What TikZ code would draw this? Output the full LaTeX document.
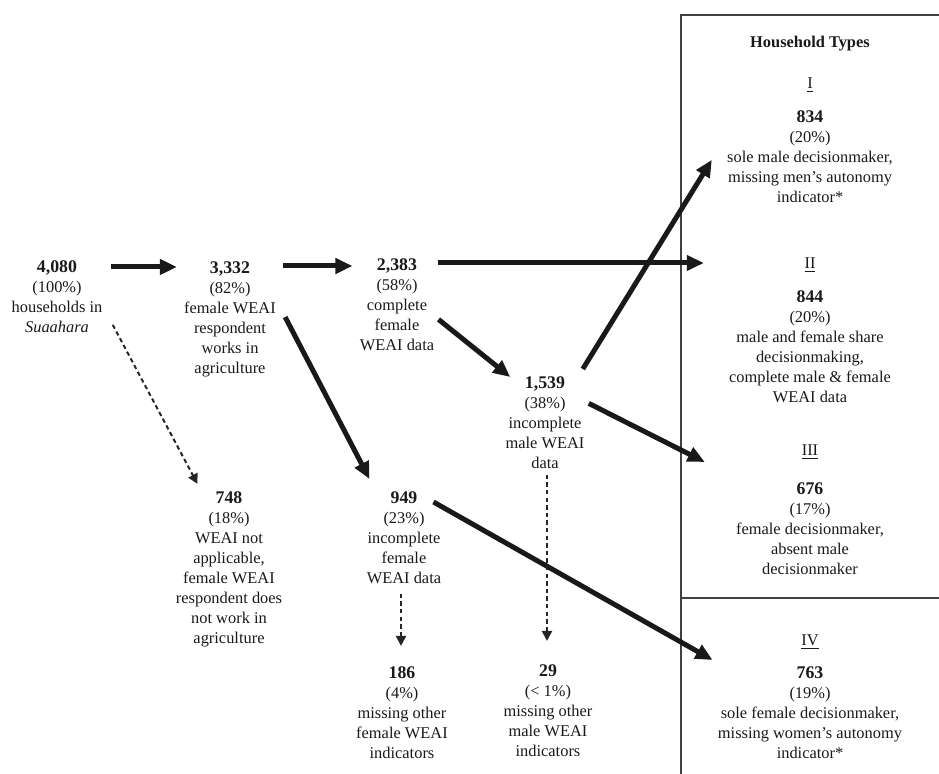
\documentclass[tikz,border=0pt]{standalone}
\usepackage{fontspec}
\setmainfont{Liberation Serif}
\usetikzlibrary{arrows.meta}

\newcommand{\cnum}[1]{{\fontsize{8.9}{10}\selectfont\textbf{#1}}}

\begin{document}
\begin{tikzpicture}[
  x=0.5pt, y=-0.5pt,
  every node/.style={font=\fontsize{8.2}{10}\selectfont, text=black!90},
  cnt/.style={align=center, inner sep=0pt, anchor=north},
  hh/.style={cnt},
  arr/.style={-{Triangle[length=8.5pt,width=7.5pt]}, line width=2.5pt, black!90},
  dasharr/.style={-{Triangle[length=5pt,width=5pt]}, line width=1pt,
                  dash pattern=on 2.2pt off 1.6pt, black!85},
  frame/.style={line width=1pt, black!75}
]
  \useasboundingbox (0,0) rectangle (939,774);
  % household types panel
  \draw[frame] (939,15) -- (681,15) -- (681,774);
  \draw[frame] (681,598) -- (939,598);
  \node[cnt] (title) at (810,36) {\textbf{Household Types}};
  \node[hh] (typeI)   at (810,77)  {\underline{I}\\[7pt]\cnum{834}\\(20\%)\\sole male decisionmaker,\\missing men's autonomy\\indicator*};
  \node[hh] (typeII)  at (810,257) {\underline{II}\\[7pt]\cnum{844}\\(20\%)\\male and female share\\decisionmaking,\\complete male \& female\\WEAI data};
  \node[hh] (typeIII) at (810,444) {\underline{III}\\[9.5pt]\cnum{676}\\(17\%)\\female decisionmaker,\\absent male\\decisionmaker};
  \node[hh] (typeIV)  at (810,634) {\underline{IV}\\[6.5pt]\cnum{763}\\(19\%)\\sole female decisionmaker,\\missing women's autonomy\\indicator*};
  % sample flow
  \node[cnt] (n4080) at (57,260)  {\cnum{4,080}\\(100\%)\\households in\\\textit{Suaahara}};
  \node[cnt] (n3332) at (230,261) {\cnum{3,332}\\(82\%)\\female WEAI\\respondent\\works in\\agriculture};
  \node[cnt] (n2383) at (397,258) {\cnum{2,383}\\(58\%)\\complete\\female\\WEAI data};
  \node[cnt] (n1539) at (545,376) {\cnum{1,539}\\(38\%)\\incomplete\\male WEAI\\data};
  \node[cnt] (n748)  at (229,491) {\cnum{748}\\(18\%)\\WEAI not\\applicable,\\female WEAI\\respondent does\\not work in\\agriculture};
  \node[cnt] (n949)  at (404,491) {\cnum{949}\\(23\%)\\incomplete\\female\\WEAI data};
  \node[cnt] (n186)  at (402,666) {\cnum{186}\\(4\%)\\missing other\\female WEAI\\indicators};
  \node[cnt] (n29)   at (548,664) {\cnum{29}\\(< 1\%)\\missing other\\male WEAI\\indicators};
  % arrows
  \draw[arr] ([shift={(8,7)}]n4080.north east) -- ([shift={(-7,6)}]n3332.north west);
  \draw[arr] ([shift={(7,5)}]n3332.north east) -- ([shift={(-7,8)}]n2383.north west);
  \draw[arr] ([shift={(3,5)}]n2383.north east) -- ([shift={(-25,6)}]typeII.north west);
  \draw[arr] ([shift={(4,15)}]n2383.east) -- ([shift={(5,1)}]n1539.north west);
  \draw[arr] ([shift={(-2,-7)}]n1539.north east) -- ([shift={(-15,20)}]typeI.west);
  \draw[arr] ([shift={(4,-19)}]n1539.east) -- ([shift={(-31,18)}]typeIII.north west);
  \draw[arr] ([shift={(9,-2)}]n3332.east) -- ([shift={(3,-12)}]n949.north west);
  \draw[arr] ([shift={(-8,11)}]n949.north east) -- ([shift={(-5,26)}]typeIV.north west);
  \draw[dasharr] ([shift={(10,-8)}]n4080.south east) -- ([shift={(22,-7)}]n748.north west);
  \draw[dasharr] ([shift={(2,6)}]n1539.south) -- ([shift={(-1,-23)}]n29.north);
  \draw[dasharr] ([shift={(-3,10)}]n949.south) -- ([shift={(-1,-20)}]n186.north);
\end{tikzpicture}
\end{document}
